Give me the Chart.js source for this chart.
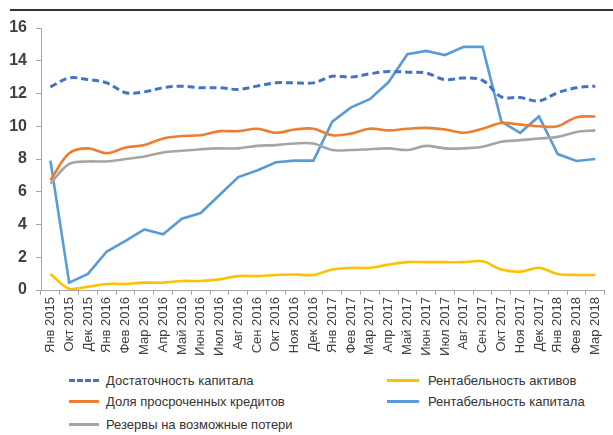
<!DOCTYPE html>
<html lang="ru">
<head>
<meta charset="utf-8">
<script src="https://cdn.jsdelivr.net/npm/chart.js@4.4.0/dist/chart.umd.min.js"></script>
<style>
  html, body { margin: 0; padding: 0; background: #fff; }
  .wrap { position: relative; width: 613px; height: 435px; overflow: hidden; }
  .top-rule { position: absolute; left: 10px; right: 0; top: 9px; height: 2px; background: #333; }
  #chart { position: absolute; left: 0; top: 0; }
  .legend { position: absolute; left: 0; top: 0; font-family: "Liberation Sans", Arial, sans-serif; font-size: 13px; color: #333; }
  .legend__item { position: absolute; display: flex; align-items: center; white-space: nowrap; height: 18px; }
  .legend__line { width: 30px; height: 0; border-top: 3px solid; margin-right: 7px; }
</style>
</head>
<body>
<div class="wrap">
  <canvas id="chart" width="613" height="365"></canvas>
  <div class="top-rule"></div>
  <div class="legend" id="legend"></div>
</div>
<script>
const labels = ['Янв 2015', 'Окт 2015', 'Дек 2015', 'Янв 2016', 'Фев 2016', 'Мар 2016', 'Апр 2016',
  'Май 2016', 'Июн 2016', 'Июл 2016', 'Авг 2016', 'Сен 2016', 'Окт 2016', 'Ноя 2016', 'Дек 2016',
  'Янв 2017', 'Фев 2017', 'Мар 2017', 'Апр 2017', 'Май 2017', 'Июн 2017', 'Июл 2017', 'Авг 2017',
  'Сен 2017', 'Окт 2017', 'Ноя 2017', 'Дек 2017', 'Янв 2018', 'Фев 2018', 'Мар 2018'];

const capitalAdequacy = [12.4, 12.95, 12.85, 12.65, 12.05, 12.1, 12.35, 12.45, 12.35, 12.35, 12.25, 12.45,
  12.65, 12.65, 12.65, 13.05, 13.0, 13.2, 13.35, 13.3, 13.25, 12.85, 12.95, 12.8, 11.8, 11.75, 11.55,
  12.05, 12.35, 12.45];
const overdueShare = [6.7, 8.35, 8.65, 8.35, 8.7, 8.85, 9.25, 9.4, 9.45, 9.7, 9.7, 9.85, 9.6, 9.8, 9.85,
  9.45, 9.55, 9.85, 9.75, 9.85, 9.9, 9.8, 9.6, 9.85, 10.2, 10.1, 10.0, 10.0, 10.55, 10.6];
const lossReserves = [6.5, 7.7, 7.85, 7.85, 8.0, 8.15, 8.4, 8.5, 8.6, 8.65, 8.65, 8.8, 8.85, 8.95, 8.95,
  8.55, 8.55, 8.6, 8.65, 8.55, 8.8, 8.65, 8.65, 8.75, 9.05, 9.15, 9.25, 9.35, 9.65, 9.75];
const returnOnAssets = [0.98, 0.08, 0.2, 0.37, 0.37, 0.45, 0.45, 0.55, 0.55, 0.65, 0.85, 0.85, 0.92, 0.95,
  0.92, 1.25, 1.35, 1.35, 1.55, 1.7, 1.7, 1.7, 1.7, 1.75, 1.25, 1.12, 1.35, 0.98, 0.92, 0.92];
const returnOnEquity = [7.9, 0.45, 0.98, 2.35, 3.0, 3.7, 3.4, 4.35, 4.7, 5.8, 6.9, 7.3, 7.8, 7.9, 7.9,
  10.28, 11.15, 11.65, 12.7, 14.4, 14.6, 14.35, 14.85, 14.85, 10.28, 9.6, 10.6, 8.3, 7.88, 8.0];

const yTicks = [0, 2, 4, 6, 8, 10, 12, 14, 16];

const TEXT_COLOR = '#404040';
const AXIS_COLOR = '#a6a6a6';

const makeLine = (label, data, color, extra = {}) => ({
  label,
  data,
  borderColor: color,
  backgroundColor: color,
  borderWidth: 2.6,
  pointRadius: 0,
  tension: 0.35,
  fill: false,
  ...extra,
});

const datasets = [
  makeLine('Достаточность капитала', capitalAdequacy, '#4472c4', { borderDash: [7, 4], borderWidth: 3, legendCol: 0, legendRow: 0 }),
  makeLine('Доля просроченных кредитов', overdueShare, '#ed7d31', { legendCol: 0, legendRow: 1 }),
  makeLine('Резервы на возможные потери', lossReserves, '#a5a5a5', { legendCol: 0, legendRow: 2 }),
  makeLine('Рентабельность активов', returnOnAssets, '#ffc000', { legendCol: 1, legendRow: 0 }),
  makeLine('Рентабельность капитала', returnOnEquity, '#5b9bd5', { tension: 0, legendCol: 1, legendRow: 1 }),
];

const chart = new Chart(document.getElementById('chart'), {
  type: 'line',
  data: { labels, datasets },
  options: {
    responsive: false,
    animation: false,
    layout: { padding: { top: 28, right: 5, left: 0, bottom: 0 } },
    plugins: {
      legend: { display: false },
      tooltip: { enabled: false },
    },
    scales: {
      x: {
        offset: true,
        grid: {
          offset: true,
          drawOnChartArea: false,
          drawTicks: true,
          tickLength: 5,
          color: AXIS_COLOR,
        },
        border: { color: AXIS_COLOR, width: 1 },
        ticks: {
          autoSkip: false,
          minRotation: 90,
          maxRotation: 90,
          padding: 2,
          color: TEXT_COLOR,
          font: { family: '"Liberation Sans", Arial, sans-serif', size: 13 },
        },
        afterFit: (scale) => { scale.height = 75; },
      },
      y: {
        min: 0,
        max: 16,
        afterBuildTicks: (scale) => { scale.ticks = yTicks.map((value) => ({ value })); },
        grid: {
          drawOnChartArea: false,
          drawTicks: true,
          tickLength: 5,
          color: AXIS_COLOR,
        },
        border: { color: AXIS_COLOR, width: 1 },
        ticks: {
          padding: 9,
          color: TEXT_COLOR,
          font: { family: '"Liberation Sans", Arial, sans-serif', size: 16, weight: 'bold' },
        },
        afterFit: (scale) => { scale.width = 41; },
      },
    },
  },
});

// legend in two columns, built from the chart's datasets
const legendEl = document.getElementById('legend');
const COL_X = [69, 387];
const ROW_Y = [371, 392, 415];
chart.data.datasets.forEach((ds) => {
  const item = document.createElement('div');
  item.className = 'legend__item';
  item.style.left = `${COL_X[ds.legendCol]}px`;
  item.style.top = `${ROW_Y[ds.legendRow]}px`;
  const line = document.createElement('span');
  line.className = 'legend__line';
  line.style.borderTopColor = ds.borderColor;
  if (ds.borderDash) {
    line.style.borderTopStyle = 'dashed';
  }
  if (ds.legendCol === 1) {
    line.style.width = '32px';
    line.style.marginRight = '9px';
  }
  const text = document.createElement('span');
  text.textContent = ds.label;
  item.append(line, text);
  legendEl.append(item);
});
</script>
</body>
</html>
